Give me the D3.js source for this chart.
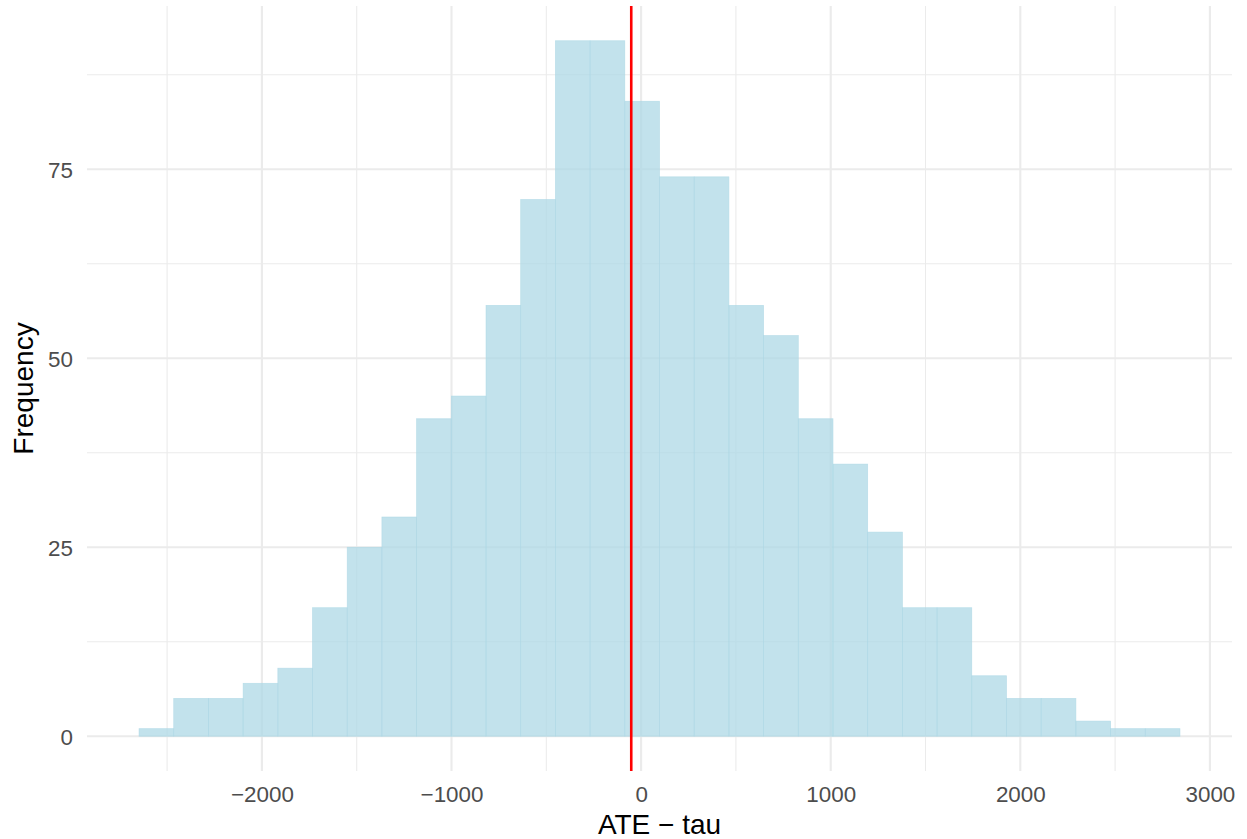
<!DOCTYPE html>
<html>
<head>
<meta charset="utf-8">
<script src="https://cdn.jsdelivr.net/npm/d3@7"></script>
<style>
  html, body { margin: 0; padding: 0; background: #fff; }
  svg { display: block; }
</style>
</head>
<body>
<svg id="chart" width="1247" height="839"></svg>
<script>
// ---- data ----
const binStart = -2648;
const binWidth = 183;
const counts = [1, 5, 5, 7, 9, 17, 25, 29, 42, 45, 57, 71, 92, 92, 84, 74, 74, 57, 53, 42, 36, 27, 17, 17, 8, 5, 5, 2, 1, 1];
const meanLine = -52;
const xTicks = [-2000, -1000, 0, 1000, 2000, 3000];
const xMinor = [-2500, -1500, -500, 500, 1500, 2500];
const yTicks = [0, 25, 50, 75];
const yMinor = [12.5, 37.5, 62.5, 87.5];
const xLabel = "ATE \u2212 tau";
const yLabel = "Frequency";

(function () {
const bins = counts.map((c, i) => ({ x0: binStart + i * binWidth, x1: binStart + (i + 1) * binWidth, n: c }));

// ---- layout ----
const svg = d3.select("#chart");
const pLeft = 87, pRight = 1232, pTop = 6, pBottom = 771;
const font = "Liberation Sans, Arial, sans-serif";

const xmin = bins[0].x0, xmax = bins[bins.length - 1].x1;
const xpad = (xmax - xmin) * 0.05;
const x = d3.scaleLinear().domain([xmin - xpad, xmax + xpad]).range([pLeft, pRight]);
const ymax = d3.max(counts);
const ypad = ymax * 0.05;
const y = d3.scaleLinear().domain([-ypad, ymax + ypad]).range([pBottom, pTop]);

const grid = svg.append("g");
grid.selectAll("line.xmin").data(xMinor).enter().append("line")
  .attr("x1", d => x(d)).attr("x2", d => x(d)).attr("y1", pTop).attr("y2", pBottom)
  .attr("stroke", "#ebebeb").attr("stroke-width", 1.07);
grid.selectAll("line.ymin").data(yMinor).enter().append("line")
  .attr("y1", d => y(d)).attr("y2", d => y(d)).attr("x1", pLeft).attr("x2", pRight)
  .attr("stroke", "#ebebeb").attr("stroke-width", 1.07);
grid.selectAll("line.xmaj").data(xTicks).enter().append("line")
  .attr("x1", d => x(d)).attr("x2", d => x(d)).attr("y1", pTop).attr("y2", pBottom)
  .attr("stroke", "#ebebeb").attr("stroke-width", 2.13);
grid.selectAll("line.ymaj").data(yTicks).enter().append("line")
  .attr("y1", d => y(d)).attr("y2", d => y(d)).attr("x1", pLeft).attr("x2", pRight)
  .attr("stroke", "#ebebeb").attr("stroke-width", 2.13);

// bars
svg.append("g").selectAll("rect").data(bins).enter().append("rect")
  .attr("x", d => x(d.x0))
  .attr("width", d => x(d.x1) - x(d.x0))
  .attr("y", d => y(d.n))
  .attr("height", d => y(0) - y(d.n))
  .attr("fill", "lightblue")
  .attr("fill-opacity", 0.75)
  .attr("stroke", "lightblue")
  .attr("stroke-opacity", 0.75)
  .attr("stroke-width", 0.7);

// mean line
svg.append("line")
  .attr("x1", x(meanLine)).attr("x2", x(meanLine))
  .attr("y1", pTop).attr("y2", pBottom)
  .attr("stroke", "red").attr("stroke-width", 2.6);

// axes (text only, ggplot minimal style)
const xAxis = d3.axisBottom(x).tickValues(xTicks).tickSize(0).tickPadding(0)
  .tickFormat(d => d < 0 ? "\u2212" + Math.abs(d) : String(d));
const gx = svg.append("g").attr("transform", `translate(0,${pBottom})`).call(xAxis);
gx.select(".domain").remove();
gx.selectAll("text").attr("dy", null).attr("y", 31)
  .attr("font-family", font).attr("font-size", 22.4).attr("fill", "#4d4d4d");

const yAxis = d3.axisLeft(y).tickValues(yTicks).tickSize(0).tickPadding(0);
const gy = svg.append("g").attr("transform", `translate(${pLeft},0)`).call(yAxis);
gy.select(".domain").remove();
gy.selectAll("text").attr("x", -14).attr("dy", "0.36em")
  .attr("font-family", font).attr("font-size", 22.4).attr("fill", "#4d4d4d");

svg.append("text").text(xLabel)
  .attr("x", (pLeft + pRight) / 2).attr("y", 834)
  .attr("text-anchor", "middle")
  .attr("font-family", font).attr("font-size", 28).attr("fill", "#000");

svg.append("text").text(yLabel)
  .attr("transform", `translate(33,${(pTop + pBottom) / 2}) rotate(-90)`)
  .attr("text-anchor", "middle")
  .attr("font-family", font).attr("font-size", 28).attr("fill", "#000");
})();
</script>
</body>
</html>
